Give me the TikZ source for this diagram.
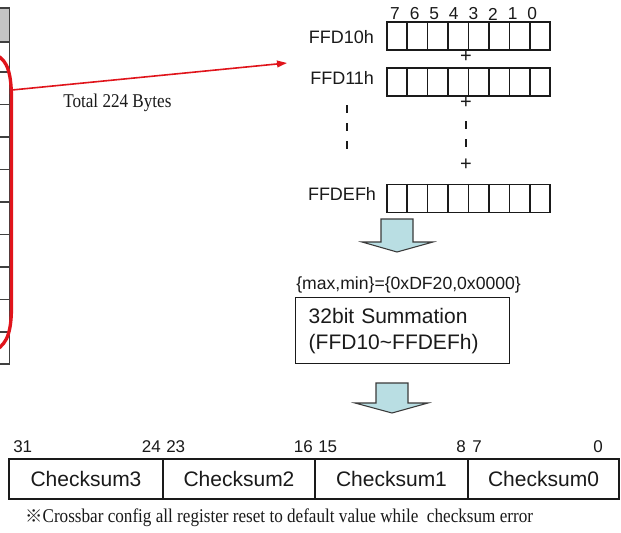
\documentclass[tikz,border=0pt]{standalone}
\usepackage{fontspec}
\setmainfont{Liberation Sans}
\newfontfamily\timesc[FakeStretch=0.88]{Liberation Serif}
\newfontfamily\cjk{Noto Sans CJK SC}
\usetikzlibrary{calc,arrows.meta}
\definecolor{ink}{HTML}{1A1A1A}
\definecolor{redl}{HTML}{E0141B}
\definecolor{hdr}{HTML}{C4C4C4}
\definecolor{arrowfill}{HTML}{B9DEE3}
\definecolor{arrowline}{HTML}{3A3A3A}
\definecolor{tbl}{HTML}{404040}
\begin{document}
\begin{tikzpicture}[x=0.75pt,y=-0.75pt,
  reg/.style={draw=ink,line width=1.1pt,minimum width=122.25pt,minimum height=21pt,inner sep=0pt},
  cellline/.style={draw=ink,line width=1.1pt},
  lab/.style={text=ink,font=\fontsize{13.5}{15}\selectfont,inner sep=0pt},
  bitlab/.style={text=ink,font=\fontsize{13}{14}\selectfont,inner sep=0pt},
  plus/.style={text=ink,font=\fontsize{15}{16}\selectfont,inner sep=0pt},
  dashline/.style={draw=ink,line width=1.7pt,dash pattern=on 6pt off 7.5pt},
  blockarrow/.style={draw=arrowline,fill=arrowfill,line width=0.8pt,line join=miter},
  cs/.style={draw=ink,line width=1.1pt,minimum height=30pt,inner sep=0pt,text=ink,font=\fontsize{15.75}{18}\selectfont},
  csbit/.style={text=ink,font=\fontsize{12.75}{14}\selectfont,inner sep=0pt},
  serif/.style={text=ink,font=\timesc\fontsize{14.6}{16}\selectfont,inner sep=0pt},
  tblline/.style={draw=tbl,line width=1.1pt},
  redline/.style={draw=redl,line width=1.2pt}]
\useasboundingbox (0,0) rectangle (621,532);
\fill[white] (0,0) rectangle (621,532);

% left table (cropped)
\fill[hdr] (0,8) rectangle (9.5,42);
\draw[tblline] (9.5,8) -- (9.5,364);
\foreach \yy in {8,42,72,104.5,137,169.5,202,234.5,267,299.5,332,364}
  \draw[tblline] (0,\yy) -- (9.5,\yy);

% red selection outline
\draw[draw=redl,line width=2.5pt] (-4,55) .. controls (8,60) and (11.5,75) .. (11.5,100)
   -- (11.5,305) .. controls (11.5,330) and (8,343) .. (-4,350);

% red arrow
\coordinate (rs) at (12,90);
\coordinate (re) at (287,63);
\draw[redline,-{Triangle[length=7.5pt,width=5pt]}] (rs) -- (re);
\node[serif,anchor=west] (total) at (63,103) {Total 224 Bytes};

% registers
\node[reg] (r1) at (468.5,36) {};
\node[reg] (r2) at (468.5,82) {};
\node[reg] (r3) at (468.5,198.5) {};
\foreach \r in {r1,r2,r3}
  \foreach \i in {1,...,7}
    \draw[cellline] ($(\r.north west)!\i/8!(\r.north east)$) -- ($(\r.south west)!\i/8!(\r.south east)$);

\foreach \b [count=\k from 0] in {7,6,5,4,3,2,1,0}
  \node[bitlab] (b\b) at (395+19.6*\k,14) {\b};

\node[lab,anchor=east] (l1) at ($(r1.west)+(-12,1)$) {FFD10h};
\node[lab,anchor=east] (l2) at ($(r2.west)+(-12,-4)$) {FFD11h};
\node[lab,anchor=east] (l3) at ($(r3.west)+(-10,-5)$) {FFDEFh};

\node[plus] (p1) at (466,57) {+};
\node[plus] (p2) at (466,103) {+};
\node[plus] (p3) at (466,165) {+};

\draw[dashline] (347,105) -- (347,151);
\draw[dashline] (466,121) -- (466,151);

% block arrow 1
\draw[blockarrow] (381,219) -- (413,219) -- (413,242) -- (433,242) -- (397,252) -- (362,242) -- (381,242) -- cycle;

% range text and summation box
\node[text=ink,font=\fontsize{13.2}{15}\selectfont,inner sep=0pt,anchor=west] (range) at (296,285) {\{max,min\}=\{0xDF20,0x0000\}};
\node[draw=ink,line width=1.1pt,minimum height=49.5pt,text width=141pt,inner xsep=9.75pt,inner ysep=0pt,align=left,anchor=north west,
      text=ink,font=\fontsize{15.75}{19.5}\selectfont] (sum) at (295,297) {32bit Summation\\(FFD10\textasciitilde FFDEFh)};

% block arrow 2
\draw[blockarrow] (376,383) -- (408,383) -- (408,403) -- (428,403) -- (392,413) -- (355,403) -- (376,403) -- cycle;

% checksum register
\node[cs,minimum width=115.5pt] (c3) at (86,479) {Checksum3};
\node[cs,minimum width=114pt] (c2) at (239,479) {Checksum2};
\node[cs,minimum width=114.75pt] (c1) at (391.5,479) {Checksum1};
\node[cs,minimum width=113.25pt] (c0) at (543.5,479) {Checksum0};

\node[csbit,anchor=west] (n31) at (13,447) {31};
\node[csbit,anchor=east] (n24) at (161,447) {24};
\node[csbit,anchor=west] (n23) at (166,447) {23};
\node[csbit,anchor=east] (n16) at (313,447) {16};
\node[csbit,anchor=west] (n15) at (318,447) {15};
\node[csbit,anchor=east] (n8) at (466,447) {8};
\node[csbit,anchor=west] (n7) at (472,447) {7};
\node[csbit,anchor=east] (n0) at (603,447) {0};

\node[serif,anchor=west] (note) at (25,518) {{\cjk\fontsize{13}{15}\selectfont ※}Crossbar config all register reset to default value while\ \ checksum error};
\end{tikzpicture}
\end{document}
